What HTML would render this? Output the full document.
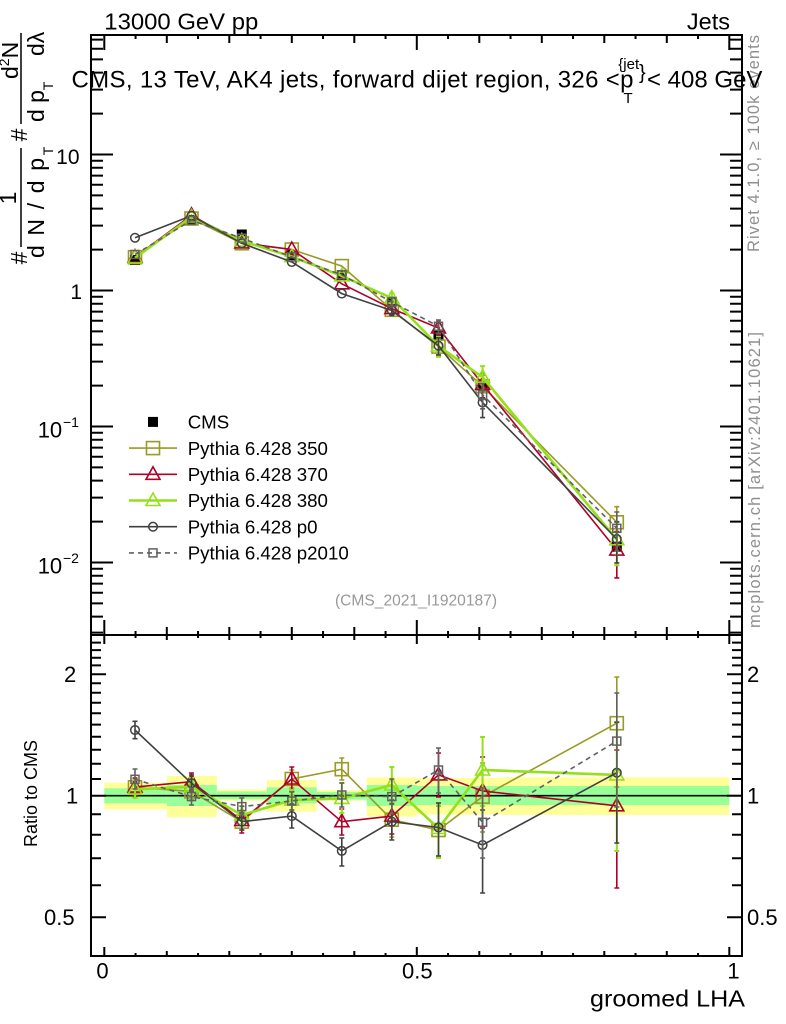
<!DOCTYPE html>
<html><head><meta charset="utf-8"><style>
html,body{margin:0;padding:0;background:#fff;}
svg{display:block;font-family:"Liberation Sans",Arial,sans-serif;}
</style></head><body>
<svg width="786" height="1024" viewBox="0 0 786 1024" xmlns="http://www.w3.org/2000/svg">
<defs>
<rect id="mc" x="-5" y="-5" width="10" height="10" fill="#000"/>
<rect id="m350" x="-6.5" y="-6.5" width="13" height="13" fill="none" stroke="#9a9a26" stroke-width="1.6"/>
<polygon id="m370" points="0,-7.5 7,5 -7,5" fill="none" stroke="#b00028" stroke-width="1.6"/>
<polygon id="m380" points="0,-7.5 7,5 -7,5" fill="none" stroke="#94e01a" stroke-width="1.6"/>
<circle id="mp0" r="4.3" fill="none" stroke="#404040" stroke-width="1.5"/>
<rect id="mp2" x="-4" y="-4" width="8" height="8" fill="none" stroke="#606060" stroke-width="1.5"/>
</defs>

<!-- top texts -->
<text x="104.3" y="29.3" font-size="23.5" textLength="154" lengthAdjust="spacingAndGlyphs">13000 GeV pp</text>
<text x="730" y="29.3" font-size="23.5" text-anchor="end">Jets</text>

<!-- y-axis label (rotated) -->
<g font-size="23" fill="#000">
<text transform="translate(27,258) rotate(-90)" text-anchor="middle">#</text>
<text transform="translate(16,198) rotate(-90)" text-anchor="middle">1</text>
<line x1="21" y1="148" x2="21" y2="247" stroke="#000" stroke-width="1.5"/>
<text transform="translate(44,258) rotate(-90)" textLength="100" lengthAdjust="spacing">d N / d p</text>
<text transform="translate(53,151) rotate(-90)" text-anchor="middle" font-size="14">T</text>
<text transform="translate(27,135) rotate(-90)" text-anchor="middle">#</text>
<line x1="21" y1="33" x2="21" y2="124" stroke="#000" stroke-width="1.5"/>
<text transform="translate(18,79) rotate(-90)" font-size="23">d<tspan font-size="14" dy="-9">2</tspan><tspan dy="9">N</tspan></text>
<text transform="translate(44,122) rotate(-90)">d p</text>
<text transform="translate(53,86) rotate(-90)" text-anchor="middle" font-size="14">T</text>
<text transform="translate(44,56) rotate(-90)">dλ</text>
</g>

<!-- right side texts -->
<text transform="translate(759,252) rotate(-90)" font-size="16.5" fill="#8f8f8f" textLength="217" lengthAdjust="spacing">Rivet 4.1.0, ≥ 100k events</text>
<text transform="translate(760,628) rotate(-90)" font-size="16.5" fill="#8f8f8f" textLength="296" lengthAdjust="spacing">mcplots.cern.ch [arXiv:2401.10621]</text>

<!-- frames -->
<rect x="91" y="35" width="651" height="600" fill="none" stroke="#000" stroke-width="2"/>

<!-- ratio bands -->
<g stroke="none">
<rect x="104.3" y="782.7" width="62.5" height="26.7" fill="#ffff99"/>
<rect x="104.3" y="788.3" width="62.5" height="15.1" fill="#99ff99"/>
<rect x="166.8" y="776" width="50" height="41.3" fill="#ffff99"/>
<rect x="166.8" y="785" width="50" height="21" fill="#99ff99"/>
<rect x="216.8" y="789.3" width="50" height="11.4" fill="#ffff99"/>
<rect x="216.8" y="791.4" width="50" height="7.8" fill="#99ff99"/>
<rect x="266.8" y="780" width="50" height="31.7" fill="#ffff99"/>
<rect x="266.8" y="787.3" width="50" height="16.1" fill="#99ff99"/>
<rect x="316.8" y="790" width="50" height="10.7" fill="#ffff99"/>
<rect x="316.8" y="791.9" width="50" height="7.7" fill="#99ff99"/>
<rect x="366.8" y="777.4" width="50" height="39.3" fill="#ffff99"/>
<rect x="366.8" y="785" width="50" height="21" fill="#99ff99"/>
<rect x="416.8" y="778" width="87.5" height="36.5" fill="#ffff99"/>
<rect x="416.8" y="786" width="87.5" height="19" fill="#99ff99"/>
<rect x="504.3" y="777.3" width="225" height="37.7" fill="#ffff99"/>
<rect x="504.3" y="786" width="225" height="19" fill="#99ff99"/>
</g>
<line x1="104.3" y1="795.7" x2="742" y2="795.7" stroke="#000" stroke-width="1.6"/>

<rect x="91" y="635" width="651" height="321" fill="none" stroke="#000" stroke-width="2"/>

<!-- ticks -->
<g stroke="#000" stroke-width="2" fill="none">
<path d="M104.3 635v-15M416.8 635v-15M729.3 635v-15
M166.8 635v-8M229.3 635v-8M291.8 635v-8M354.3 635v-8M479.3 635v-8M541.8 635v-8M604.3 635v-8M666.8 635v-8
M135.55 635v-4M198.05 635v-4M260.55 635v-4M323.05 635v-4M385.55 635v-4M448.05 635v-4M510.55 635v-4M573.05 635v-4M635.55 635v-4M698.05 635v-4"/>
<path d="M104.3 35v15M416.8 35v15M729.3 35v15
M166.8 35v8M229.3 35v8M291.8 35v8M354.3 35v8M479.3 35v8M541.8 35v8M604.3 35v8M666.8 35v8
M135.55 35v4M198.05 35v4M260.55 35v4M323.05 35v4M385.55 35v4M448.05 35v4M510.55 35v4M573.05 35v4M635.55 35v4M698.05 35v4"/>
<path d="M104.3 635v9M416.8 635v9M729.3 635v9
M166.8 635v5M229.3 635v5M291.8 635v5M354.3 635v5M479.3 635v5M541.8 635v5M604.3 635v5M666.8 635v5
M135.55 635v3M198.05 635v3M260.55 635v3M323.05 635v3M385.55 635v3M448.05 635v3M510.55 635v3M573.05 635v3M635.55 635v3M698.05 635v3"/>
<path d="M104.3 956v-9M416.8 956v-9M729.3 956v-9
M166.8 956v-5M229.3 956v-5M291.8 956v-5M354.3 956v-5M479.3 956v-5M541.8 956v-5M604.3 956v-5M666.8 956v-5
M135.55 956v-3M198.05 956v-3M260.55 956v-3M323.05 956v-3M385.55 956v-3M448.05 956v-3M510.55 956v-3M573.05 956v-3M635.55 956v-3M698.05 956v-3"/>
<path d="M91 154.5h22M91 290.5h22M91 426.5h22M91 562.5h22
M91 113.6h12M91 89.6h12M91 72.6h12M91 59.4h12M91 48.7h12M91 39.6h12
M91 249.6h12M91 225.6h12M91 208.6h12M91 195.4h12M91 184.7h12M91 175.6h12M91 167.7h12M91 160.7h12
M91 385.6h12M91 361.6h12M91 344.6h12M91 331.4h12M91 320.7h12M91 311.6h12M91 303.7h12M91 296.7h12
M91 521.6h12M91 497.6h12M91 480.6h12M91 467.4h12M91 456.7h12M91 447.6h12M91 439.7h12M91 432.7h12
M91 632.6h12M91 616.6h12M91 603.4h12M91 592.7h12M91 583.6h12M91 575.7h12M91 568.7h12"/>
<path d="M742 154.5h-22M742 290.5h-22M742 426.5h-22M742 562.5h-22
M742 113.6h-12M742 89.6h-12M742 72.6h-12M742 59.4h-12M742 48.7h-12M742 39.6h-12
M742 249.6h-12M742 225.6h-12M742 208.6h-12M742 195.4h-12M742 184.7h-12M742 175.6h-12M742 167.7h-12M742 160.7h-12
M742 385.6h-12M742 361.6h-12M742 344.6h-12M742 331.4h-12M742 320.7h-12M742 311.6h-12M742 303.7h-12M742 296.7h-12
M742 521.6h-12M742 497.6h-12M742 480.6h-12M742 467.4h-12M742 456.7h-12M742 447.6h-12M742 439.7h-12M742 432.7h-12
M742 632.6h-12M742 616.6h-12M742 603.4h-12M742 592.7h-12M742 583.6h-12M742 575.7h-12M742 568.7h-12"/>
<path d="M91 674.2h15M91 795.7h15M91 917.2h15
M91 665.4h10M91 657.7h10M91 650.1h10M91 642.6h10
M91 779h10M91 763.7h10M91 749.7h10M91 736.7h10M91 724.6h10M91 713.3h10M91 702.7h10M91 692.7h10M91 683.2h10
M91 885.2h10M91 858.2h10M91 834.8h10M91 814.2h10"/>
<path d="M742 674.2h-15M742 795.7h-15M742 917.2h-15
M742 665.4h-10M742 657.7h-10M742 650.1h-10M742 642.6h-10
M742 779h-10M742 763.7h-10M742 749.7h-10M742 736.7h-10M742 724.6h-10M742 713.3h-10M742 702.7h-10M742 692.7h-10M742 683.2h-10
M742 885.2h-10M742 858.2h-10M742 834.8h-10M742 814.2h-10"/>
</g>

<!-- axis labels -->
<g font-size="21">
<text x="79.5" y="164" text-anchor="end">10</text>
<text x="70.4" y="299">1</text>
<text x="37.7" y="437.3" font-size="22">10</text>
<text x="63" y="427" font-size="14">−1</text>
<text x="37.7" y="573.3" font-size="22">10</text>
<text x="63" y="563" font-size="14">−2</text>
</g>
<g font-size="22">
<text x="64" y="682">2</text>
<text x="66" y="803.7">1</text>
<text x="44" y="925">0.5</text>
<text x="747" y="682">2</text>
<text x="747" y="803.7">1</text>
<text x="747" y="925">0.5</text>
<text x="102.5" y="978.3" text-anchor="middle">0</text>
<text x="417.3" y="978.3" text-anchor="middle">0.5</text>
<text x="733.5" y="978.3" text-anchor="middle">1</text>
</g>
<text x="590" y="1006.7" font-size="23.5" textLength="155" lengthAdjust="spacingAndGlyphs">groomed LHA</text>
<text transform="translate(37,793.5) rotate(-90)" text-anchor="middle" font-size="18">Ratio to CMS</text>

<!-- title -->
<text x="71.5" y="87.3" font-size="24" textLength="562" lengthAdjust="spacing">CMS, 13 TeV, AK4 jets, forward dijet region, 326 &lt;p</text>
<text x="618.3" y="69" font-size="15">{jet</text>
<text x="623.5" y="103" font-size="15">T</text>
<text x="639" y="79" font-size="20">}</text>
<text x="647" y="87.3" font-size="24">&lt; 408 GeV</text>

<text x="416" y="605.5" font-size="15.6" fill="#999" text-anchor="middle">(CMS_2021_I1920187)</text>

<!-- ============ MAIN PANEL DATA ============ -->
<path d="M438.5 329.4V340.6M482.6 379.7V392.8M616.8 540.5V553.6M391.8 295.5V308.6" stroke="#000" stroke-width="1.5"/>
<g>
<use href="#mc" x="135" y="260"/><use href="#mc" x="191.5" y="220"/><use href="#mc" x="241.8" y="234.5"/>
<use href="#mc" x="291.8" y="255.1"/><use href="#mc" x="341.8" y="275"/><use href="#mc" x="391.8" y="301.7"/>
<use href="#mc" x="438.5" y="335"/><use href="#mc" x="482.6" y="385.9"/><use href="#mc" x="616.8" y="546.7"/>
</g>

<g stroke="#9a9a26" fill="none" stroke-width="1.6">
<polyline points="135,257.2 191.5,218.5 241.8,243.3 291.8,249.5 341.8,266.1 391.8,309.8 438.5,346.6 482.6,386.2 616.8,522.3"/>
<path d="M391.8 305V314.5M389.3 305h5M389.3 314.5h5M438.5 338.5V355.9M436 338.5h5M436 355.9h5M482.6 375.4V399.5M480.1 375.4h5M480.1 399.5h5M616.8 506.7V543.8M614.3 506.7h5M614.3 543.8h5"/>
</g>
<g>
<use href="#m350" x="135" y="257.2"/><use href="#m350" x="191.5" y="218.5"/><use href="#m350" x="241.8" y="243.3"/>
<use href="#m350" x="291.8" y="249.5"/><use href="#m350" x="341.8" y="266.1"/><use href="#m350" x="391.8" y="309.8"/>
<use href="#m350" x="438.5" y="346.6"/><use href="#m350" x="482.6" y="386.2"/><use href="#m350" x="616.8" y="522.3"/>
</g>

<g stroke="#b00028" fill="none" stroke-width="1.6">
<polyline points="135,257.1 191.5,215.3 241.8,242.9 291.8,249.5 341.8,283.8 391.8,308.6 438.5,328 482.6,384.3 616.8,550.1"/>
<path d="M391.8 304V313.5M389.3 304h5M389.3 313.5h5M438.5 322V334.6M436 322h5M436 334.6h5M482.6 373.3V397.8M480.1 373.3h5M480.1 397.8h5M616.8 531.5V577.9M614.3 531.5h5M614.3 577.9h5"/>
</g>
<g>
<use href="#m370" x="135" y="257.1"/><use href="#m370" x="191.5" y="215.3"/><use href="#m370" x="241.8" y="242.9"/>
<use href="#m370" x="291.8" y="249.5"/><use href="#m370" x="341.8" y="283.8"/><use href="#m370" x="391.8" y="308.6"/>
<use href="#m370" x="438.5" y="328"/><use href="#m370" x="482.6" y="384.3"/><use href="#m370" x="616.8" y="550.1"/>
</g>

<g stroke="#94e01a" fill="none" stroke-width="2.6">
<polyline points="135,257.9 191.5,217 241.8,241 291.8,256.6 341.8,275.9 391.8,298.1 438.5,346 482.6,377.2 616.8,539.7"/>
<path stroke-width="2" d="M391.8 293.3V303.3M389.3 293.3h5M389.3 303.3h5M438.5 336.8V356.9M436 336.8h5M436 356.9h5M482.6 366.1V390.9M480.1 366.1h5M480.1 390.9h5M616.8 521.7V565.3M614.3 521.7h5M614.3 565.3h5"/>
</g>
<g>
<use href="#m380" x="135" y="257.9"/><use href="#m380" x="191.5" y="217"/><use href="#m380" x="241.8" y="241"/>
<use href="#m380" x="291.8" y="256.6"/><use href="#m380" x="341.8" y="275.9"/><use href="#m380" x="391.8" y="298.1"/>
<use href="#m380" x="438.5" y="346"/><use href="#m380" x="482.6" y="377.2"/><use href="#m380" x="616.8" y="539.7"/>
</g>

<g stroke="#404040" fill="none" stroke-width="1.6">
<polyline points="135,237.8 191.5,215.8 241.8,243.3 291.8,262 341.8,293.6 391.8,310.5 438.5,345.7 482.6,402.5 616.8,539"/>
<path d="M391.8 305.9V315.5M389.3 305.9h5M389.3 315.5h5M438.5 337.8V354.9M436 337.8h5M436 354.9h5M482.6 390.5V417.6M480.1 390.5h5M480.1 417.6h5M616.8 521.9V562.9M614.3 521.9h5M614.3 562.9h5"/>
</g>
<g>
<use href="#mp0" x="135" y="237.8"/><use href="#mp0" x="191.5" y="215.8"/><use href="#mp0" x="241.8" y="243.3"/>
<use href="#mp0" x="291.8" y="262"/><use href="#mp0" x="341.8" y="293.6"/><use href="#mp0" x="391.8" y="310.5"/>
<use href="#mp0" x="438.5" y="345.7"/><use href="#mp0" x="482.6" y="402.5"/><use href="#mp0" x="616.8" y="539"/>
</g>

<g stroke="#606060" fill="none" stroke-width="1.6">
<polyline stroke-dasharray="5,4" points="135,254.5 191.5,220.3 241.8,238.2 291.8,256.9 341.8,274.8 391.8,302 438.5,326.3 482.6,394.9 616.8,528.3"/>
<path d="M391.8 297.5V306.8M389.3 297.5h5M389.3 306.8h5M438.5 320.1V333.4M436 320.1h5M436 333.4h5M482.6 383.6V408.8M480.1 383.6h5M480.1 408.8h5M616.8 512V550.6M614.3 512h5M614.3 550.6h5"/>
</g>
<g>
<use href="#mp2" x="135" y="254.5"/><use href="#mp2" x="191.5" y="220.3"/><use href="#mp2" x="241.8" y="238.2"/>
<use href="#mp2" x="291.8" y="256.9"/><use href="#mp2" x="341.8" y="274.8"/><use href="#mp2" x="391.8" y="302"/>
<use href="#mp2" x="438.5" y="326.3"/><use href="#mp2" x="482.6" y="394.9"/><use href="#mp2" x="616.8" y="528.3"/>
</g>

<!-- ============ RATIO PANEL DATA ============ -->
<g stroke="#9a9a26" fill="none" stroke-width="1.6">
<polyline points="135,787.3 191.5,791.4 241.8,821.7 291.8,779 341.8,769.2 391.8,819.7 438.5,830 482.6,796.6 616.8,723.2"/>
<path d="M135 779V796M132.5 779h5M132.5 796h5M191.5 783V800M189 783h5M189 800h5M241.8 813V830M239.3 813h5M239.3 830h5M291.8 770V788M289.3 770h5M289.3 788h5M341.8 758V780M339.3 758h5M339.3 780h5M391.8 803V837M389.3 803h5M389.3 837h5M438.5 806V856M436 806h5M436 856h5M482.6 763V832M480.1 763h5M480.1 832h5M616.8 677V787M614.3 677h5M614.3 787h5"/>
</g>
<g>
<use href="#m350" x="135" y="787.3"/><use href="#m350" x="191.5" y="791.4"/><use href="#m350" x="241.8" y="821.7"/>
<use href="#m350" x="291.8" y="779"/><use href="#m350" x="341.8" y="769.2"/><use href="#m350" x="391.8" y="819.7"/>
<use href="#m350" x="438.5" y="830"/><use href="#m350" x="482.6" y="796.6"/><use href="#m350" x="616.8" y="723.2"/>
</g>

<g stroke="#b00028" fill="none" stroke-width="1.6">
<polyline points="135,787.1 191.5,781.7 241.8,820.5 291.8,779 341.8,821.7 391.8,816.1 438.5,774.9 482.6,791 616.8,805.8"/>
<path d="M135 778V796M132.5 778h5M132.5 796h5M191.5 773V790M189 773h5M189 790h5M241.8 811V833M239.3 811h5M239.3 833h5M291.8 767V791M289.3 767h5M289.3 791h5M341.8 809V835M339.3 809h5M339.3 835h5M391.8 800V834M389.3 800h5M389.3 834h5M438.5 753V797M436 753h5M436 797h5M482.6 757V828M480.1 757h5M480.1 828h5M616.8 750V888M614.3 750h5M614.3 888h5"/>
</g>
<g>
<use href="#m370" x="135" y="787.1"/><use href="#m370" x="191.5" y="781.7"/><use href="#m370" x="241.8" y="820.5"/>
<use href="#m370" x="291.8" y="779"/><use href="#m370" x="341.8" y="821.7"/><use href="#m370" x="391.8" y="816.1"/>
<use href="#m370" x="438.5" y="774.9"/><use href="#m370" x="482.6" y="791"/><use href="#m370" x="616.8" y="805.8"/>
</g>

<g stroke="#94e01a" fill="none" stroke-width="2.6">
<polyline points="135,789.3 191.5,786.7 241.8,815 291.8,800.1 341.8,798.4 391.8,785 438.5,828.4 482.6,770 616.8,774.9"/>
<path stroke-width="2" d="M135 780V798M132.5 780h5M132.5 798h5M191.5 778V795M189 778h5M189 795h5M241.8 806V824M239.3 806h5M239.3 824h5M291.8 790V810M289.3 790h5M289.3 810h5M341.8 783V813M339.3 783h5M339.3 813h5M391.8 767V803M389.3 767h5M389.3 803h5M438.5 803V858M436 803h5M436 858h5M482.6 737V806M480.1 737h5M480.1 806h5M616.8 722V851M614.3 722h5M614.3 851h5"/>
</g>
<g>
<use href="#m380" x="135" y="789.3"/><use href="#m380" x="191.5" y="786.7"/><use href="#m380" x="241.8" y="815"/>
<use href="#m380" x="291.8" y="800.1"/><use href="#m380" x="341.8" y="798.4"/><use href="#m380" x="391.8" y="785"/>
<use href="#m380" x="438.5" y="828.4"/><use href="#m380" x="482.6" y="770"/><use href="#m380" x="616.8" y="774.9"/>
</g>

<g stroke="#404040" fill="none" stroke-width="1.6">
<polyline points="135,730 191.5,783.3 241.8,821.7 291.8,816.1 341.8,850.9 391.8,821.7 438.5,827.5 482.6,845 616.8,772.7"/>
<path d="M135 721.3V738.7M132.5 721.3h5M132.5 738.7h5M191.5 775V792M189 775h5M189 792h5M241.8 813V830M239.3 813h5M239.3 830h5M291.8 804V828M289.3 804h5M289.3 828h5M341.8 838V866M339.3 838h5M339.3 866h5M391.8 804V840M389.3 804h5M389.3 840h5M438.5 803V856M436 803h5M436 856h5M482.6 810V893M480.1 810h5M480.1 893h5M616.8 722.3V843M614.3 722.3h5M614.3 843h5"/>
</g>
<g>
<use href="#mp0" x="135" y="730"/><use href="#mp0" x="191.5" y="783.3"/><use href="#mp0" x="241.8" y="821.7"/>
<use href="#mp0" x="291.8" y="816.1"/><use href="#mp0" x="341.8" y="850.9"/><use href="#mp0" x="391.8" y="821.7"/>
<use href="#mp0" x="438.5" y="827.5"/><use href="#mp0" x="482.6" y="845"/><use href="#mp0" x="616.8" y="772.7"/>
</g>

<g stroke="#606060" fill="none" stroke-width="1.6">
<polyline stroke-dasharray="5,4" points="135,779.3 191.5,796.6 241.8,806.6 291.8,801 341.8,795 391.8,796.6 438.5,770 482.6,822.3 616.8,741.1"/>
<path d="M135 769V789M132.5 769h5M132.5 789h5M191.5 788V805M189 788h5M189 805h5M241.8 798V815M239.3 798h5M239.3 815h5M291.8 792V810M289.3 792h5M289.3 810h5M341.8 783V807M339.3 783h5M339.3 807h5M391.8 779V814M389.3 779h5M389.3 814h5M438.5 748V793M436 748h5M436 793h5M482.6 788V858M480.1 788h5M480.1 858h5M616.8 693V807M614.3 693h5M614.3 807h5"/>
</g>
<g>
<use href="#mp2" x="135" y="779.3"/><use href="#mp2" x="191.5" y="796.6"/><use href="#mp2" x="241.8" y="806.6"/>
<use href="#mp2" x="291.8" y="801"/><use href="#mp2" x="341.8" y="795"/><use href="#mp2" x="391.8" y="796.6"/>
<use href="#mp2" x="438.5" y="770"/><use href="#mp2" x="482.6" y="822.3"/><use href="#mp2" x="616.8" y="741.1"/>
</g>

<!-- legend -->
<g font-size="18.7">
<use href="#mc" x="153" y="421.9"/>
<text x="187.7" y="428.6">CMS</text>
<line x1="129" y1="448.1" x2="177" y2="448.1" stroke="#9a9a26" stroke-width="1.6"/>
<use href="#m350" x="153" y="448.1"/>
<text x="187.7" y="454.8">Pythia 6.428 350</text>
<line x1="129" y1="474.3" x2="177" y2="474.3" stroke="#b00028" stroke-width="1.6"/>
<use href="#m370" x="153" y="474.3"/>
<text x="187.7" y="481">Pythia 6.428 370</text>
<line x1="129" y1="500.5" x2="177" y2="500.5" stroke="#94e01a" stroke-width="2.6"/>
<use href="#m380" x="153" y="500.5"/>
<text x="187.7" y="507.2">Pythia 6.428 380</text>
<line x1="129" y1="526.7" x2="177" y2="526.7" stroke="#404040" stroke-width="1.6"/>
<use href="#mp0" x="153" y="526.7"/>
<text x="187.7" y="533.4">Pythia 6.428 p0</text>
<line x1="129" y1="552.9" x2="177" y2="552.9" stroke="#606060" stroke-width="1.6" stroke-dasharray="5,4"/>
<use href="#mp2" x="153" y="552.9"/>
<text x="187.7" y="559.6">Pythia 6.428 p2010</text>
</g>
</svg>
</body></html>
